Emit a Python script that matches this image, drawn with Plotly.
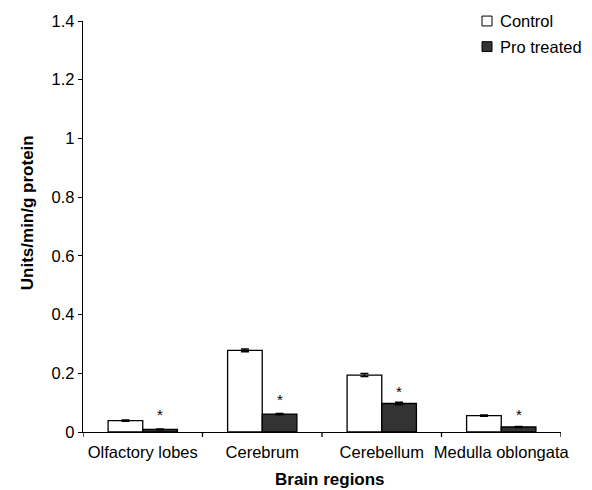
import plotly.graph_objects as go

regions = ["Olfactory lobes", "Cerebrum", "Cerebellum", "Medulla oblongata"]
control = [0.039, 0.278, 0.194, 0.056]
control_err = [0.002, 0.005, 0.005, 0.002]
treated = [0.009, 0.061, 0.097, 0.017]
treated_err = [0.001, 0.002, 0.004, 0.002]
star_y = [0.06, 0.11, 0.138, 0.06]
y_ticks = [0, 0.2, 0.4, 0.6, 0.8, 1, 1.2, 1.4]
series_names = ["Control", "Pro treated"]
series_colors = ["white", "#333333"]

font = "Liberation Sans, Arial, sans-serif"
W, H = 592, 490

fig = go.Figure()
for vals, errs, name, col in [(control, control_err, series_names[0], series_colors[0]),
                              (treated, treated_err, series_names[1], series_colors[1])]:
    fig.add_trace(go.Bar(
        x=list(range(len(regions))), y=vals, name=name, showlegend=False,
        marker=dict(color=col, line=dict(color="black", width=1.3)),
        error_y=dict(type="data", array=errs, color="black", thickness=1.5, width=4),
    ))

for i, sy in enumerate(star_y):
    fig.add_annotation(x=i + 0.145, y=sy, text="*", showarrow=False,
                       font=dict(size=15, color="black", family=font),
                       xref="x", yref="y", yanchor="middle")

# axis titles
fig.add_annotation(text="<b>Brain regions</b>", xref="paper", yref="paper",
                   x=(330 - 83) / 478, y=-(480 - 432) / 417, showarrow=False,
                   font=dict(size=17), xanchor="center", yanchor="middle")
fig.add_annotation(text="<b>Units/min/g protein</b>", xref="paper", yref="paper",
                   x=-(83 - 27) / 478, y=(432 - 210) / 417, showarrow=False,
                   textangle=-90, font=dict(size=17), xanchor="center", yanchor="middle")

# manual legend (paper coords computed from pixel layout)
def px(xp):
    return (xp - 83) / 478

def py(yp):
    return (432 - yp) / 417

for k, (name, col) in enumerate(zip(series_names, series_colors)):
    yc = 15 + 26 * k
    fig.add_shape(type="rect", xref="paper", yref="paper",
                  x0=px(482), x1=px(492), y0=py(yc + 5), y1=py(yc - 5),
                  fillcolor=col, line=dict(color="black", width=1))
    fig.add_annotation(text=name, xref="paper", yref="paper", x=px(498), y=py(yc),
                       xanchor="left", yanchor="middle", showarrow=False,
                       font=dict(size=16.5))

fig.update_layout(
    width=W, height=H,
    margin=dict(l=83, r=31, t=15, b=58),
    paper_bgcolor="white", plot_bgcolor="white",
    barmode="group", bargap=0.42, bargroupgap=0,
    font=dict(family=font, size=16.5, color="black"),
    showlegend=False,
    xaxis=dict(
        range=[-0.5, 3.5], tickmode="array",
        tickvals=list(range(len(regions))), ticktext=regions,
        showline=True, linecolor="black", linewidth=1.3,
        ticks="", showgrid=False, zeroline=False,
        ticklabelstandoff=5,
    ),
    yaxis=dict(
        range=[0, 1.4], tickvals=y_ticks,
        ticktext=[("%g" % v) for v in y_ticks],
        showline=True, linecolor="black", linewidth=1.3,
        ticks="outside", ticklen=4, tickcolor="black",
        showgrid=False, zeroline=False,
    ),
)

# category boundary ticks on x axis
for b in [-0.5, 0.5, 1.5, 2.5, 3.5]:
    fig.add_shape(type="line", xref="x", yref="paper", x0=b, x1=b, y0=0, y1=-0.012,
                  line=dict(color="black", width=1.3))

fig.write_html("out.html")
